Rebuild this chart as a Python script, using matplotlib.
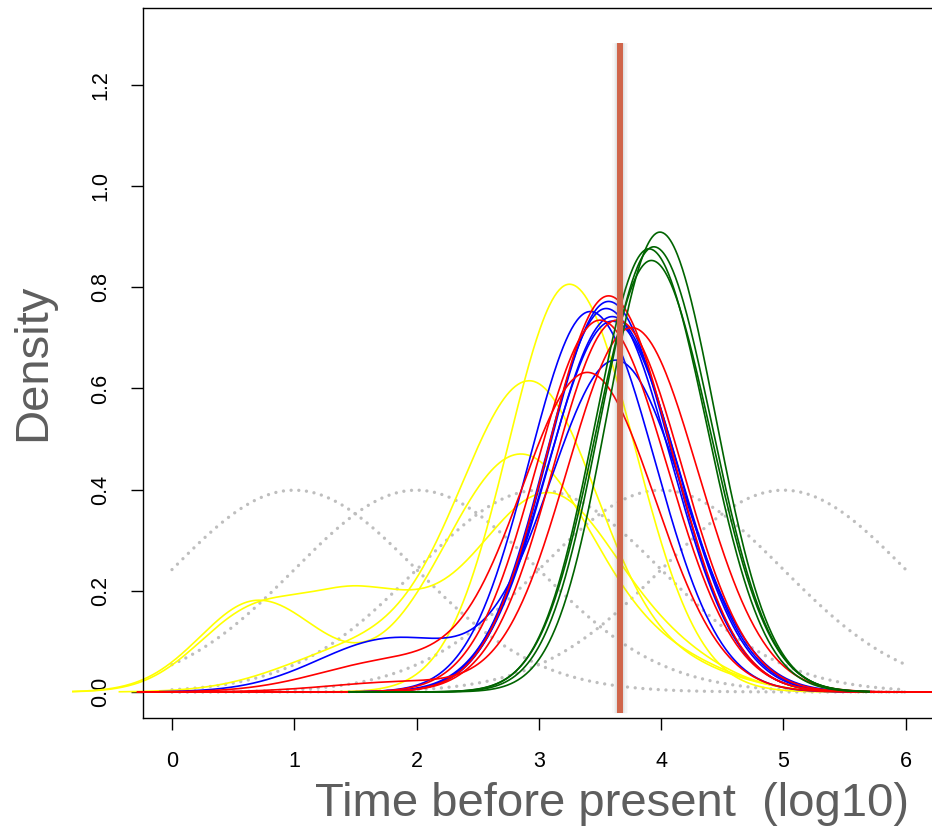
import numpy as np
import matplotlib
matplotlib.use('Agg')
import matplotlib.pyplot as plt

plt.rcParams['font.family'] = ['Liberation Sans', 'DejaVu Sans']

# axis ticks
x_ticks = [0, 1, 2, 3, 4, 5, 6]
y_ticks = [0.0, 0.2, 0.4, 0.6, 0.8, 1.0, 1.2]
y_tick_labels = ['0.0', '0.2', '0.4', '0.6', '0.8', '1.0', '1.2']

# gray reference densities: normal, sd 1, drawn on [0, 6]
gray_means = [1, 2, 3, 4, 5]
gray_sd = 1.0
gray_range = (0, 6)

# density curves, as components (height, centre, sd left, sd right)
yellow_curves = [
    [(0.806, 3.25, 0.50, 0.53)],
    [(0.61, 2.93, 0.58, 0.56), (0.08, 1.5, 0.6, 0.6), (0.035, 4.25, 0.45, 0.45)],
    [(0.18, 0.70, 0.47, 0.5), (0.47, 2.85, 0.63, 0.62), (0.04, 4.2, 0.45, 0.45)],
    [(0.15, 0.65, 0.45, 0.45), (0.17, 1.55, 0.45, 0.5), (0.39, 3.07, 0.62, 0.58), (0.045, 4.15, 0.45, 0.45)],
]
yellow_start = [0.4, -0.43, -0.81, -0.81]

blue_curves = [
    [(0.752, 3.42, 0.50, 0.53)],
    [(0.772, 3.57, 0.50, 0.52)],
    [(0.758, 3.55, 0.50, 0.53)],
    [(0.742, 3.60, 0.52, 0.53)],
    [(0.733, 3.60, 0.53, 0.54)],
    [(0.655, 3.63, 0.55, 0.55), (0.105, 1.8, 0.6, 0.6)],
]
blue_start = [-0.1, -0.1, -0.1, -0.1, -0.1, -0.1]

red_curves = [
    [(0.783, 3.57, 0.50, 0.52)],
    [(0.735, 3.50, 0.52, 0.55)],
    [(0.735, 3.64, 0.52, 0.53)],
    [(0.72, 3.76, 0.53, 0.54), (0.02, 1.9, 0.6, 0.6)],
    [(0.63, 3.40, 0.55, 0.55), (0.06, 1.8, 0.6, 0.6)],
]
red_start = [-0.28, -0.28, -0.28, -0.28, -0.28]

green_curves = [
    [(0.909, 3.99, 0.43, 0.45)],
    [(0.880, 3.94, 0.44, 0.47)],
    [(0.876, 3.90, 0.44, 0.47)],
    [(0.853, 3.92, 0.45, 0.48)],
]
green_start = [1.45, 1.45, 1.45, 1.45]
green_end = 5.7

# vertical marker
marker_x = 3.66
marker_y = (-0.042, 1.283)


def curve(x, comps):
    y = np.zeros_like(x)
    for h, m, sl, sr in comps:
        s = np.where(x < m, sl, sr)
        y += h * np.exp(-0.5 * ((x - m) / s) ** 2)
    return y


fig = plt.figure(figsize=(9.32, 8.32), dpi=100)
ax = fig.add_axes([143 / 932, 114 / 832, 830 / 932, 710 / 832])
ax.set_xlim(-0.237, 6.55)
ax.set_ylim(-0.0514, 1.352)

# gray dotted normals
for m in gray_means:
    xx = np.linspace(gray_range[0], gray_range[1], 400)
    yy = np.exp(-0.5 * ((xx - m) / gray_sd) ** 2) / (gray_sd * np.sqrt(2 * np.pi))
    ax.plot(xx, yy, color='#BEBEBE', lw=2.4, linestyle=(0, (0.01, 2.3)),
            dash_capstyle='round', zorder=1)

lw = 1.2
for comps, x0 in zip(yellow_curves, yellow_start):
    xx = np.linspace(x0, 6.3, 600)
    ax.plot(xx, curve(xx, comps), color='#FFFF00', lw=lw, clip_on=False, zorder=2)
for comps, x0 in zip(blue_curves, blue_start):
    xx = np.linspace(x0, 6.6, 600)
    ax.plot(xx, curve(xx, comps), color='#0000FF', lw=lw, clip_on=False, zorder=3)
for comps, x0 in zip(red_curves, red_start):
    xx = np.linspace(x0, 6.6, 600)
    ax.plot(xx, curve(xx, comps), color='#FF0000', lw=lw, clip_on=False, zorder=4)
for comps, x0 in zip(green_curves, green_start):
    xx = np.linspace(x0, green_end, 600)
    ax.plot(xx, curve(xx, comps), color='#006400', lw=lw, clip_on=False, zorder=5)

# soft shadow then the marker line
for w, a in [(16, 0.04), (13, 0.05), (10, 0.07), (8, 0.08)]:
    ax.plot([marker_x, marker_x], marker_y, color='gray', lw=w * 0.72, alpha=a,
            solid_capstyle='butt', zorder=6)
ax.plot([marker_x, marker_x], marker_y, color='#D0654A', lw=4.3,
        solid_capstyle='butt', zorder=7)

ax.set_xticks(x_ticks)
ax.set_xticklabels([str(t) for t in x_ticks])
ax.set_yticks(y_ticks)
ax.set_yticklabels(y_tick_labels, rotation=90, va='center')
ax.tick_params(axis='both', length=8.6, width=1.0, labelsize=15.5, colors='black')
ax.tick_params(axis='x', pad=15)
ax.tick_params(axis='y', pad=14)
for sp in ax.spines.values():
    sp.set_linewidth(1.0)

fig.text(612 / 932, 1 - 804 / 832, 'Time before present  (log10)', fontsize=34,
         color='#5E5E5E', ha='center', va='center')
fig.text(33 / 932, 1 - 362 / 832, 'Density', fontsize=34, color='#5E5E5E',
         rotation=90, ha='center', va='center')

fig.savefig('out.png', dpi=100)
